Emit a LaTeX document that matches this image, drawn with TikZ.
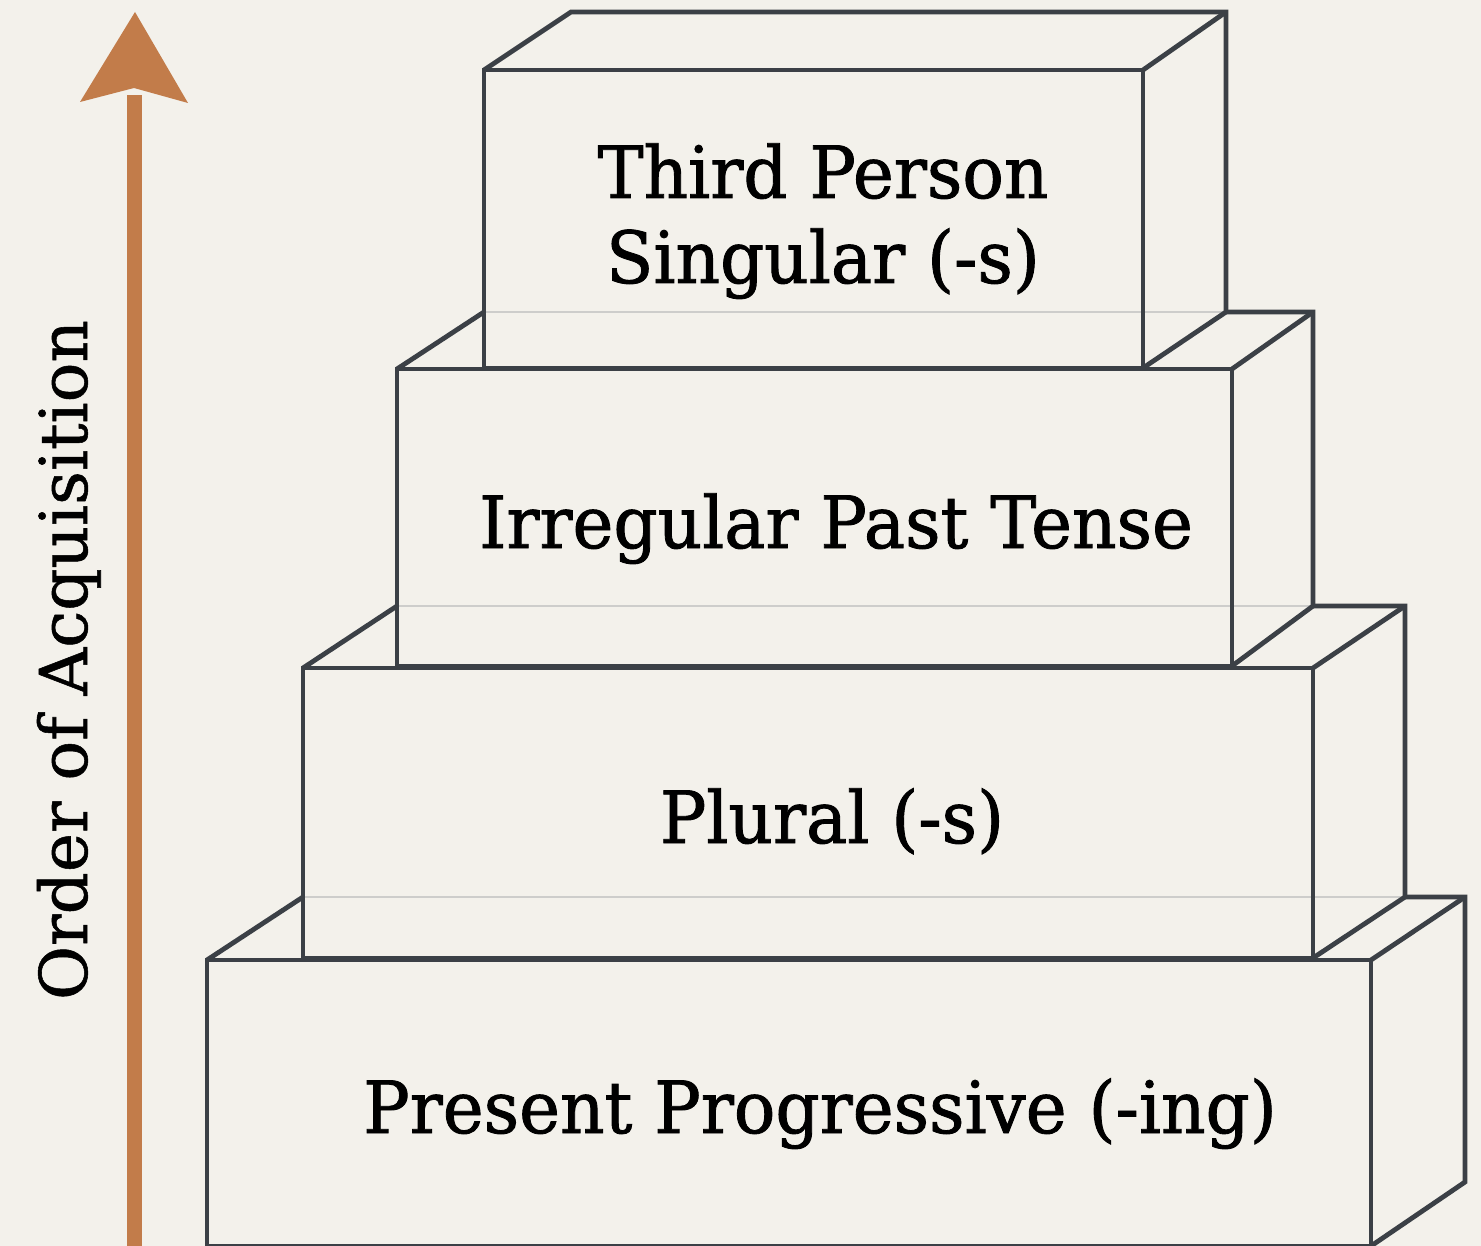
\documentclass[tikz,border=0pt]{standalone}
\usepackage{fontspec}
\setmainfont{DejaVu Serif}[FakeStretch=0.96,FakeBold=1.2]
\newfontfamily\labelfont{DejaVu Serif}[FakeBold=0.8]
\definecolor{bg}{HTML}{F3F1EB}
\definecolor{edge}{HTML}{3B4046}
\definecolor{faint}{HTML}{CDCDCB}
\definecolor{arrowc}{HTML}{C27C4A}
\begin{document}
\begin{tikzpicture}[x=1pt,y=-1pt,
  boxline/.style={draw=edge,line width=4.8pt,line join=miter},
  hidden/.style={draw=faint,line width=2.5pt},
  lbl/.style={anchor=base,inner sep=0pt,font=\fontsize{72}{86}\selectfont,text=black}]
\fill[bg] (0,0) rectangle (1481,1246);
\useasboundingbox (0,0) rectangle (1481,1246);
% hidden back edges
\draw[hidden] (303,897) -- (1405,897);
\draw[hidden] (397,606) -- (1313,606);
\draw[hidden] (484,312) -- (1226,312);
% Box 1
\draw[boxline] (207,960) rectangle (1371,1246);
\draw[boxline] (207,960) -- (303,897);
\draw[boxline] (1405,897) -- (1465,897) -- (1465,1182) -- (1371,1246);
\draw[boxline] (1371,960) -- (1465,897);
% Box 2
\draw[boxline] (303,668) rectangle (1313,958);
\draw[boxline] (303,668) -- (397,606);
\draw[boxline] (1313,606) -- (1405,606) -- (1405,897) -- (1313,958);
\draw[boxline] (1313,668) -- (1405,606);
% Box 3
\draw[boxline] (397,369) rectangle (1232,666);
\draw[boxline] (397,369) -- (484,312);
\draw[boxline] (1226,312) -- (1313,312) -- (1313,606) -- (1232,666);
\draw[boxline] (1232,369) -- (1313,312);
% Box 4
\draw[boxline] (484,70) -- (571,12) -- (1226,12) -- (1226,312) -- (1143,368);
\draw[boxline] (484,70) rectangle (1143,368);
\draw[boxline] (1143,70) -- (1226,12);
% texts
\node[lbl] (t4a) at (823,198) {Third Person};
\node[lbl] (t4b) at (823,283) {Singular (-s)};
\node[lbl] (t3) at (836,548) {Irregular Past Tense};
\node[lbl] (t2) at (832,843) {Plural (-s)};
\node[lbl] (t1) at (820,1133) {Present Progressive (-ing)};
% arrow
\fill[arrowc] (127,1246) rectangle (142,95);
\fill[arrowc] (135,12) -- (188,103) -- (134,88) -- (80,102) -- cycle;
\node[lbl,rotate=90,font=\labelfont\fontsize{66}{80}\selectfont] (axis) at (87,660) {Order of Acquisition};
\end{tikzpicture}
\end{document}
